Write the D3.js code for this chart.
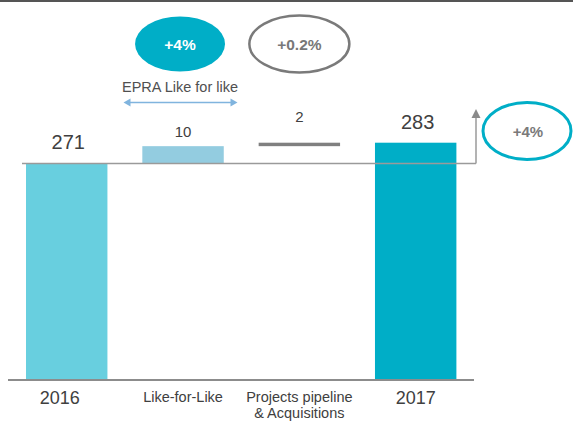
<!DOCTYPE html>
<html>
<head>
<meta charset="utf-8">
<script src="https://cdn.jsdelivr.net/npm/d3@7"></script>
<style>
  html, body { margin: 0; padding: 0; background: #fff; }
  svg { display: block; font-family: "Liberation Sans", Arial, sans-serif; }
</style>
</head>
<body>
<svg id="chart" width="573" height="422"></svg>
<script>
// Rental income bridge, 2016 -> 2017
const categories = ["2016", "Like-for-Like", "Projects pipeline\n& Acquisitions", "2017"];
const values = [271, 10, 2, 283];
const kinds = ["total", "delta", "delta", "total"];
const valueLabels = ["271", "10", "2", "283"];
const bubbleLabels = ["+4%", "+0.2%"];
const growthLabel = "+4%";
const lflCaption = "EPRA Like for like";

const svg = d3.select("#chart");

// running start/end of each step
let running = 0;
const steps = values.map((v, i) => {
  let start, end;
  if (kinds[i] === "total") { start = null; end = v; running = v; }
  else { start = running; end = running + v; running = end; }
  return { cat: categories[i], value: v, kind: kinds[i], start, end, label: valueLabels[i] };
});

const baseY = 380;
const y = d3.scaleLinear().domain([146, 283]).range([baseY, 142.7]);
const x = d3.scaleBand().domain(categories).range([26, 456.4])
  .paddingInner(0.3).paddingOuter(0);

const fills = ["#68cfdf", "#93cce0", "#808080", "#00aec7"];

// frame line at the very top
svg.append("rect").attr("x", 0).attr("y", 0).attr("width", 573).attr("height", 2).attr("fill", "#555");

// bars
svg.selectAll("rect.bar").data(steps).join("rect")
  .attr("class", "bar")
  .attr("x", d => x(d.cat))
  .attr("width", x.bandwidth())
  .attr("y", d => y(d.end))
  .attr("height", d => d.kind === "total" ? baseY - y(d.end) : y(d.start) - y(d.end))
  .attr("fill", (d, i) => fills[i]);

// reference line at the 2016 level, with growth arrow
const refY = y(values[0]);
const arrowX = 476;
svg.append("line").attr("x1", 22).attr("x2", arrowX).attr("y1", refY).attr("y2", refY)
  .attr("stroke", "#9a9a9a").attr("stroke-width", 1.5);
svg.append("line").attr("x1", arrowX).attr("x2", arrowX).attr("y1", refY).attr("y2", 117)
  .attr("stroke", "#9a9a9a").attr("stroke-width", 1.5);
svg.append("path").attr("d", `M${arrowX - 4.5},118 L${arrowX},109 L${arrowX + 4.5},118 Z`).attr("fill", "#8a8a8a");

// category axis line
svg.append("line").attr("x1", 8).attr("x2", 474).attr("y1", baseY).attr("y2", baseY)
  .attr("stroke", "#8c8c8c").attr("stroke-width", 2);

// value labels
svg.selectAll("text.val").data(steps).join("text")
  .attr("class", "val")
  .attr("x", (d, i) => x(d.cat) + x.bandwidth() / 2 + (i === 0 ? 1.5 : i === 3 ? 2 : 0))
  .attr("y", (d, i) => d.kind === "total" ? y(d.end) - 14 : (i === 1 ? y(d.end) - 9 : y(d.end) - 21))
  .attr("text-anchor", "middle")
  .attr("font-size", d => d.kind === "total" ? 20 : 15)
  .attr("fill", "#404040")
  .text(d => d.label);

// category labels
const catText = svg.selectAll("text.cat").data(steps).join("text")
  .attr("class", "cat")
  .attr("x", (d, i) => x(d.cat) + x.bandwidth() / 2 - (i === 0 ? 7 : 0))
  .attr("y", d => d.kind === "total" ? 403.5 : 402)
  .attr("text-anchor", "middle")
  .attr("font-size", d => d.kind === "total" ? 18 : 14.5)
  .attr("fill", "#404040");
catText.each(function (d) {
  const lines = d.cat.split("\n");
  d3.select(this).selectAll("tspan").data(lines).join("tspan")
    .attr("x", d3.select(this).attr("x"))
    .attr("dy", (l, j) => j === 0 ? 0 : 15.5)
    .text(l => l);
});

// growth bubbles above the delta bars
const cx1 = x(categories[1]) + x.bandwidth() / 2 - 3;
const cx2 = x(categories[2]) + x.bandwidth() / 2;
svg.append("ellipse").attr("cx", cx1).attr("cy", 44).attr("rx", 45).attr("ry", 27.5).attr("fill", "#00aec7");
svg.append("text").attr("x", cx1).attr("y", 50).attr("text-anchor", "middle")
  .attr("font-size", 15.5).attr("font-weight", "bold").attr("fill", "#fff").text(bubbleLabels[0]);
svg.append("ellipse").attr("cx", cx2).attr("cy", 44).attr("rx", 50).attr("ry", 28.5)
  .attr("fill", "none").attr("stroke", "#7a7a7a").attr("stroke-width", 2.5);
svg.append("text").attr("x", cx2).attr("y", 50).attr("text-anchor", "middle")
  .attr("font-size", 15.5).attr("font-weight", "bold").attr("fill", "#787878").text(bubbleLabels[1]);

// EPRA like-for-like caption and span arrow
svg.append("text").attr("x", cx1).attr("y", 92).attr("text-anchor", "middle")
  .attr("font-size", 14.5).attr("fill", "#505050").text(lflCaption);
const ax1 = 123.5, ax2 = 237.5, ay = 102.5;
svg.append("line").attr("x1", ax1 + 5).attr("x2", ax2 - 5).attr("y1", ay).attr("y2", ay)
  .attr("stroke", "#80b4de").attr("stroke-width", 1.5);
svg.append("path").attr("d", `M${ax1},${ay} L${ax1 + 7},${ay - 4} L${ax1 + 7},${ay + 4} Z`).attr("fill", "#80b4de");
svg.append("path").attr("d", `M${ax2},${ay} L${ax2 - 7},${ay - 4} L${ax2 - 7},${ay + 4} Z`).attr("fill", "#80b4de");

// total growth bubble
svg.append("ellipse").attr("cx", 527).attr("cy", 131).attr("rx", 44).attr("ry", 28.5)
  .attr("fill", "none").attr("stroke", "#00aec7").attr("stroke-width", 3);
svg.append("text").attr("x", 528).attr("y", 137).attr("text-anchor", "middle")
  .attr("font-size", 15).attr("font-weight", "bold").attr("fill", "#7a7a7a").text(growthLabel);
</script>
</body>
</html>
